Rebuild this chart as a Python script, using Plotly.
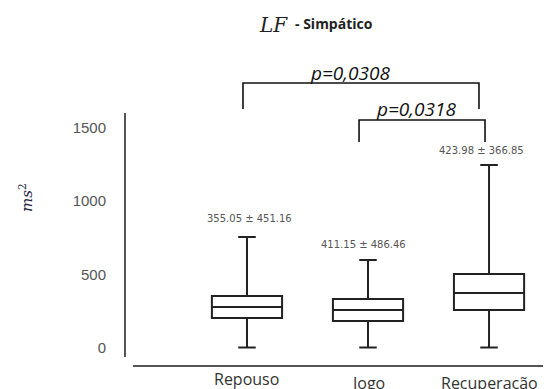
import plotly.graph_objects as go

categories = ["Repouso", "Jogo", "Recuperação"]
lower = [0, 0, 0]
q1 = [202, 181, 256]
median = [277, 256, 372]
q3 = [352, 331, 502]
upper = [755, 598, 1247]
stat_labels = ["355.05 ± 451.16", "411.15 ± 486.46", "423.98 ± 366.85"]
stat_label_y = [885, 707, 1350]
y_ticks = [0, 500, 1000, 1500]

# plot area in reference pixels: x 125..543, y 60..366 (page has 8px body margin)
PX0, PX1, PY0, PY1 = 125, 543, 60, 366


def px(xp):
    return (xp - PX0) / (PX1 - PX0)


def py(yp):
    return (PY1 - yp) / (PY1 - PY0)


fig = go.Figure()
fig.add_trace(go.Box(
    x=categories, q1=q1, median=median, q3=q3,
    lowerfence=lower, upperfence=upper,
    width=0.58, whiskerwidth=0.25,
    fillcolor="white", line=dict(color="#222222", width=2),
    boxpoints=False, showlegend=False, hoverinfo="skip",
))

# stat labels
stat_x = [0.02, 0.96, 1.94]
for xv, yv, t in zip(stat_x, stat_label_y, stat_labels):
    fig.add_annotation(x=xv, y=yv, text=t, showarrow=False, xref="x", yref="y",
                       font=dict(family="DejaVu Sans", size=10, color="#555555"))

# brackets
brackets = [(-0.033, 1.917, 1808, 1630, "p=0,0308", 0.85, 1876),
            (0.926, 1.967, 1555, 1405, "p=0,0318", 1.40, 1632)]
for x0, x1, ytop, ybot, lab, lx, ly in brackets:
    fig.add_shape(type="path", xref="x", yref="y",
                  path=f"M {x0},{ybot} L {x0},{ytop} L {x1},{ytop} L {x1},{ybot}",
                  line=dict(color="#111111", width=1.6))
    fig.add_annotation(x=lx, y=ly, text=f"<i>{lab}</i>", showarrow=False, xref="x", yref="y",
                       font=dict(family="Open Sans", size=19, color="#111111"))

# axis lines
fig.add_shape(type="line", xref="paper", yref="y", x0=0, x1=0, y0=-65, y1=1603,
              line=dict(color="#555555", width=2))
fig.add_shape(type="line", xref="x", yref="paper", x0=-0.942, x1=2.446, y0=0, y1=0,
              line=dict(color="#555555", width=2))

# category labels
shifts = [-13, -17, -17]
for c, s in zip(categories, shifts):
    fig.add_annotation(x=c, y=0, xref="x", yref="paper", yanchor="middle", yshift=s,
                       text=c, showarrow=False,
                       font=dict(family="Open Sans", size=16, color="#333333"))

# title
fig.add_annotation(x=px(273), y=py(25), xref="paper", yref="paper", xanchor="center",
                   yanchor="middle", text="<i>LF</i>", showarrow=False,
                   font=dict(family="DejaVu Serif", size=20, color="#222222"))
fig.add_annotation(x=px(334), y=py(24), xref="paper", yref="paper", xanchor="center",
                   yanchor="middle", text="<b>- Simpático</b>", showarrow=False,
                   font=dict(family="Open Sans", size=14, color="#222222"))

# y-axis title
fig.add_annotation(x=px(26), y=py(198), xref="paper", yref="paper", xanchor="center",
                   yanchor="middle", text="<i>ms</i><sup>2</sup>", showarrow=False,
                   textangle=-90,
                   font=dict(family="DejaVu Serif", size=15, color="#222244"))

fig.update_layout(
    width=548, height=381,
    margin=dict(l=PX0 - 8, r=13, t=PY0 - 8, b=23),
    plot_bgcolor="white", paper_bgcolor="white",
    xaxis=dict(range=[-1.008, 2.446], showticklabels=False, showline=False,
               showgrid=False, zeroline=False, ticks=""),
    yaxis=dict(range=[-126, 1965], tickvals=y_ticks, showline=False, showgrid=False,
               zeroline=False, ticks="", ticklabelstandoff=18,
               tickfont=dict(family="Liberation Sans", size=15, color="#555555")),
)

fig.write_html("out.html")
